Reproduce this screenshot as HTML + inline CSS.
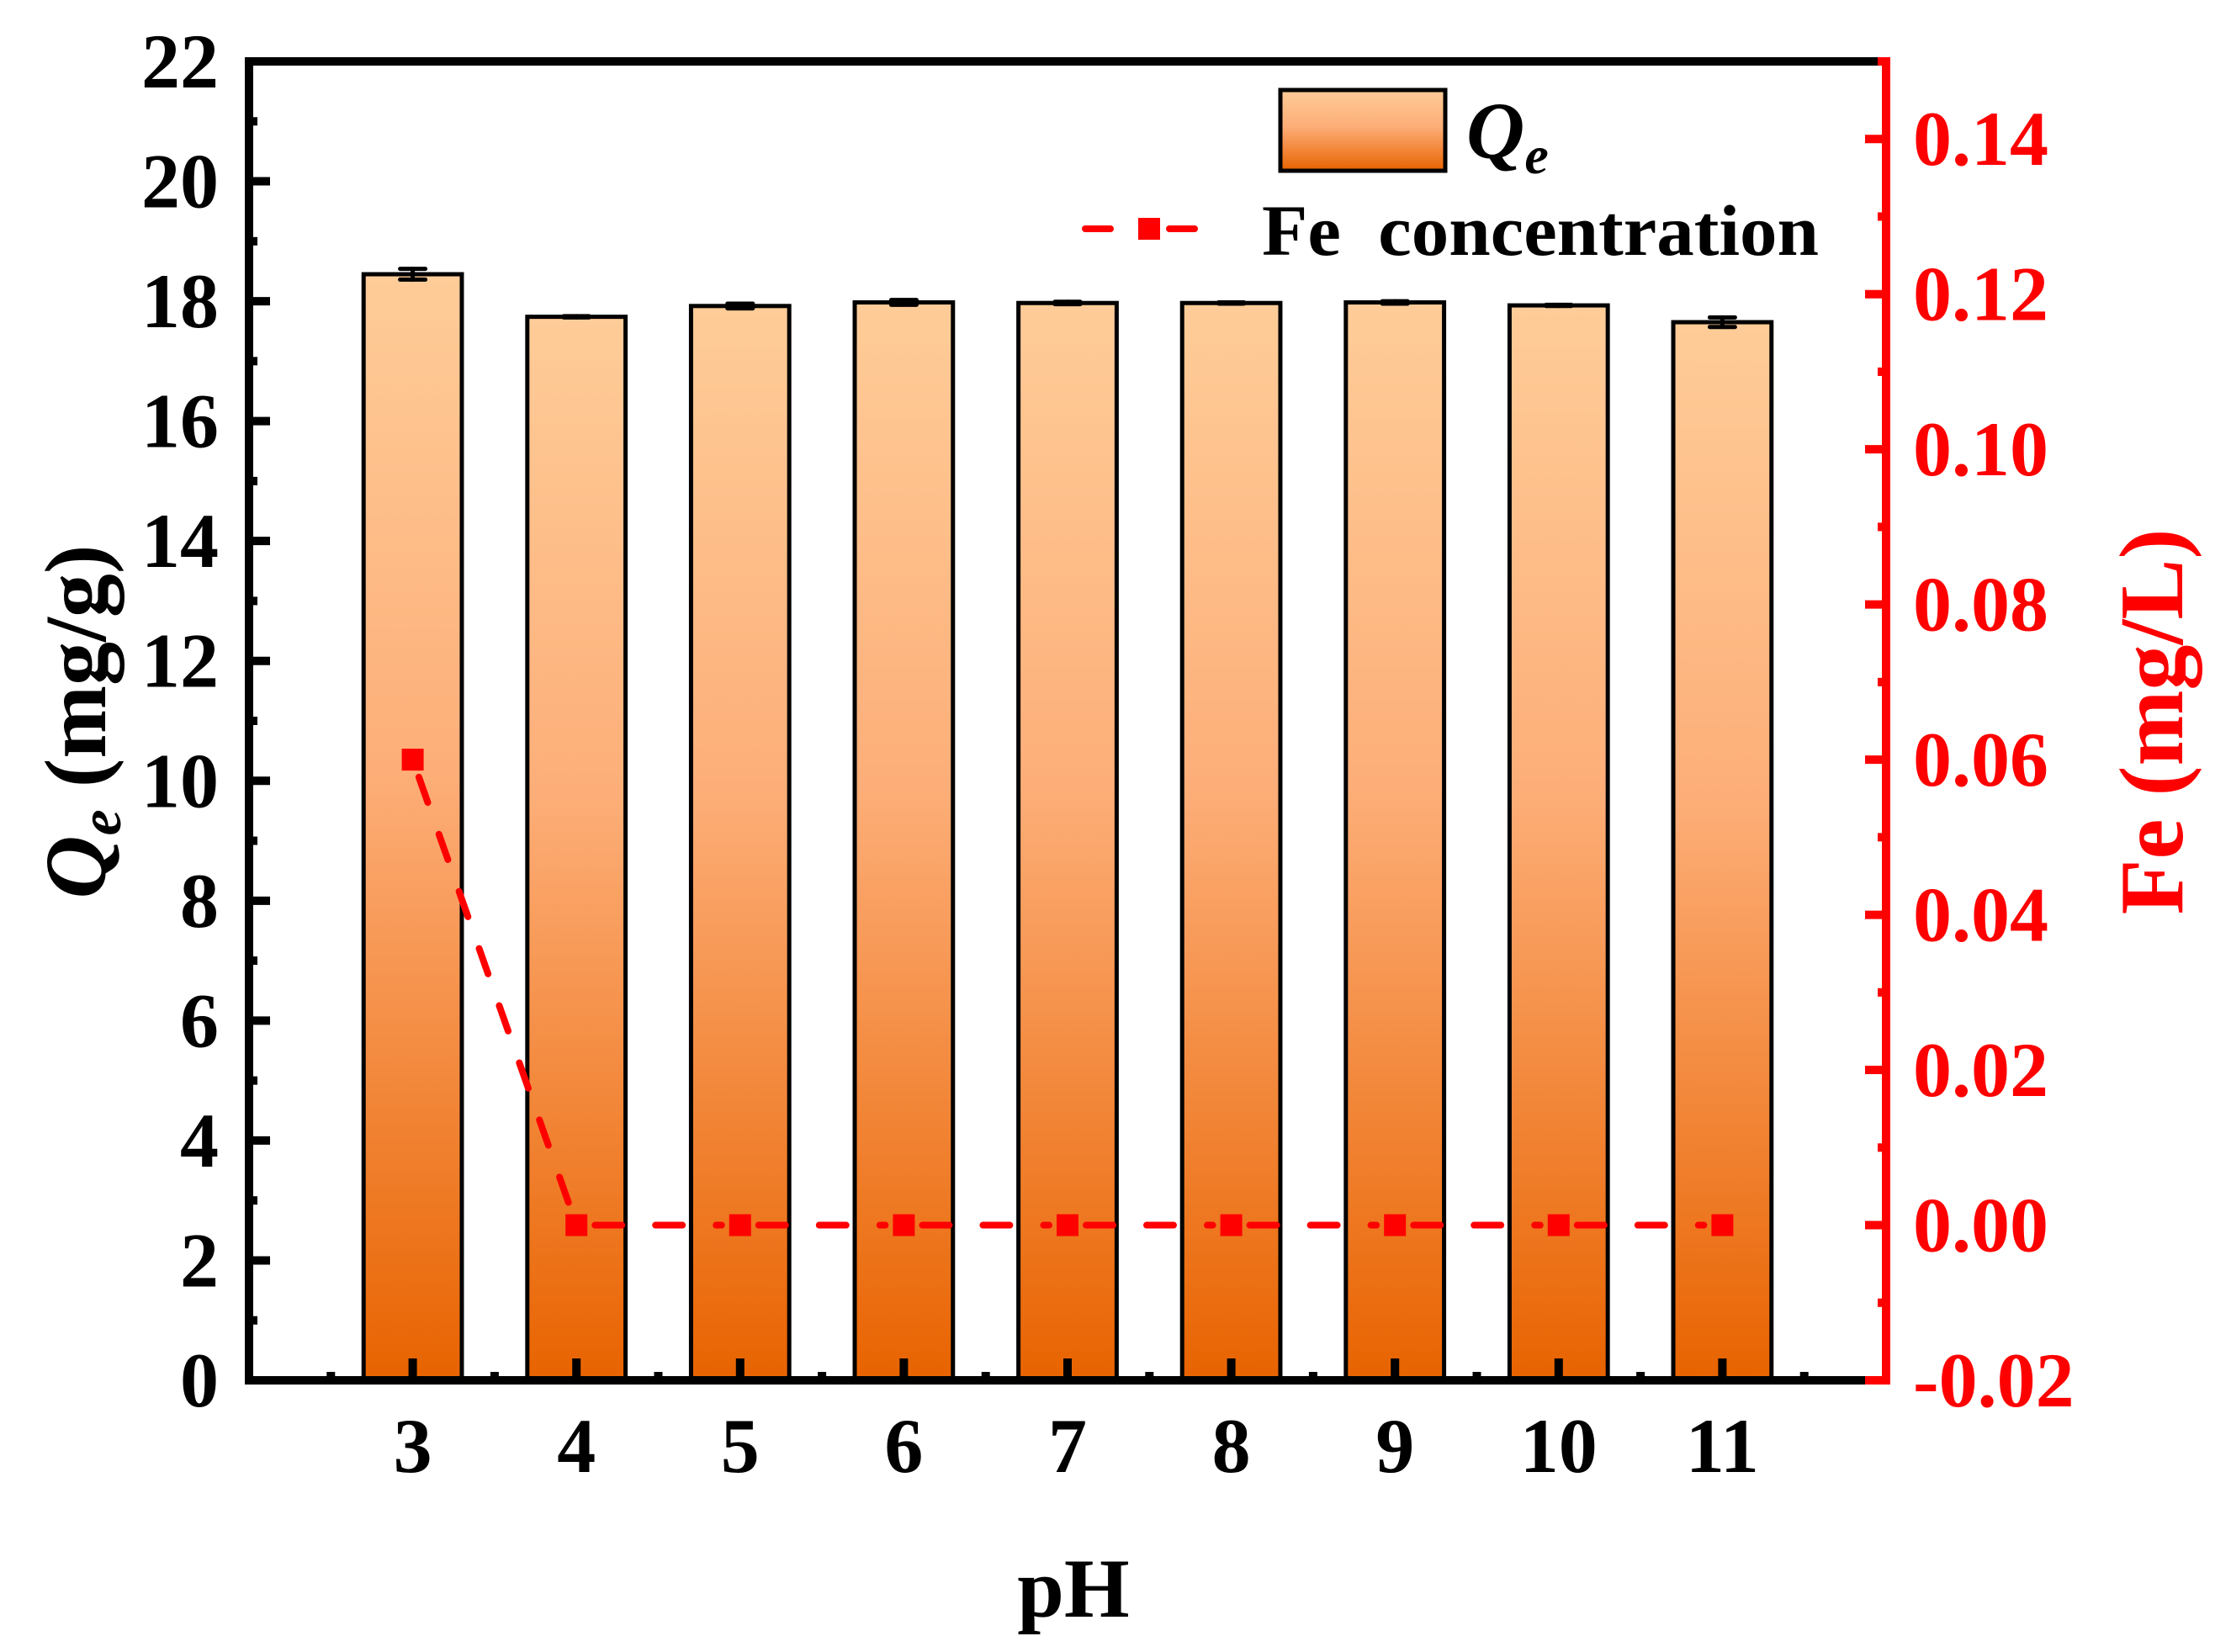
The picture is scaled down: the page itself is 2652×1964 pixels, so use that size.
<!DOCTYPE html>
<html><head><meta charset="utf-8">
<style>
html,body{margin:0;padding:0;background:#fff;}
svg{display:block;font-family:"Liberation Serif","Times New Roman",serif;font-weight:bold;}
</style></head>
<body>
<svg id="chart" width="2652" height="1964" viewBox="0 0 2652 1964" xmlns="http://www.w3.org/2000/svg">
<defs>
<linearGradient id="barGrad" x1="0" y1="0" x2="0" y2="1">
<stop offset="0" stop-color="#FECC98"/>
<stop offset="0.45" stop-color="#FDAE78"/>
<stop offset="1" stop-color="#E86300"/>
</linearGradient>
<linearGradient id="legGrad" x1="0" y1="0" x2="0" y2="1">
<stop offset="0" stop-color="#FECC98"/>
<stop offset="0.45" stop-color="#FDAE78"/>
<stop offset="1" stop-color="#E86300"/>
</linearGradient>
</defs>
<g id="bars"></g>
<g id="errs"></g>
<g id="feline"></g>
<g id="axes"></g>
<g>
<rect x="1522" y="107" width="196" height="96" fill="url(#legGrad)" stroke="#000" stroke-width="5"/>
<text x="1743" y="188" font-size="96" font-style="italic">Q<tspan font-size="64" dy="18">e</tspan></text>
<line x1="1290" y1="272" x2="1320" y2="272" stroke="#f00" stroke-width="8" stroke-linecap="round"/>
<line x1="1390" y1="272" x2="1420" y2="272" stroke="#f00" stroke-width="8" stroke-linecap="round"/>
<rect x="1353" y="259" width="26" height="26" fill="#f00"/>
<text x="1500" y="303" font-size="86" textLength="662" lengthAdjust="spacingAndGlyphs">Fe&#160;&#160;concentration</text>
</g>
<text x="1276" y="1922" font-size="100" text-anchor="middle">pH</text>
<text transform="translate(125,858) rotate(-90)" font-size="104" text-anchor="middle"><tspan font-style="italic">Q</tspan><tspan font-style="italic" font-size="70" dy="18">e</tspan><tspan dy="-18"> (mg/g)</tspan></text>
<text transform="translate(2594,858) rotate(-90)" font-size="108" fill="#f00" text-anchor="middle">Fe (mg/L)</text>
</svg>
<script>
const categories = [3,4,5,6,7,8,9,10,11];
const qeValues = [18.45,17.74,17.92,17.98,17.97,17.97,17.98,17.93,17.65];
const qeErrors = [0.09,0.01,0.04,0.04,0.02,0.01,0.02,0.01,0.08];
const feValues = [0.06,0,0,0,0,0,0,0,0];
const leftTicks = [0,2,4,6,8,10,12,14,16,18,20,22];
const rightTicks = ["-0.02","0.00","0.02","0.04","0.06","0.08","0.10","0.12","0.14"];

const X0=296,X1=2242,Y0=1641,Y1=73;
const xScale=v=>X0+(v-2)/(12-2)*(X1-X0);
const yL=v=>Y0-(v-0)/22*(Y0-Y1);
const yR=v=>Y0-(v+0.02)/0.17*(Y0-Y1);
const NS="http://www.w3.org/2000/svg";
function mk(tag,attrs,parent){const e=document.createElementNS(NS,tag);for(const k in attrs)e.setAttribute(k,attrs[k]);parent.appendChild(e);return e;}
const barsG=document.getElementById('bars'),errsG=document.getElementById('errs'),feG=document.getElementById('feline'),axesG=document.getElementById('axes');
const BW=0.6;
categories.forEach((c,i)=>{
  const xl=xScale(c-BW/2),xr=xScale(c+BW/2),yt=yL(qeValues[i]);
  const r=mk('rect',{x:xl,y:yt,width:xr-xl,height:Y0-yt,fill:'url(#barGrad)',stroke:'#000','stroke-width':5},barsG);
  
  
  const xc=xScale(c),ya=yL(qeValues[i]+qeErrors[i]),yb=yL(qeValues[i]-qeErrors[i]);
  const g=mk('g',{stroke:'#000','stroke-width':5,'stroke-linecap':'round'},errsG);
  
  
  mk('line',{x1:xc,y1:ya,x2:xc,y2:yb},g);
  mk('line',{x1:xc-15,y1:ya,x2:xc+15,y2:ya},g);
  mk('line',{x1:xc-15,y1:yb,x2:xc+15,y2:yb},g);
});
for(let i=0;i<categories.length-1;i++){
  const xa=xScale(categories[i]),ya=yR(feValues[i]),xb=xScale(categories[i+1]),yb=yR(feValues[i+1]);
  const len=Math.hypot(xb-xa,yb-ya),ux=(xb-xa)/len,uy=(yb-ya)/len,gp=22;
  const l=mk('line',{x1:xa+ux*gp,y1:ya+uy*gp,x2:xb-ux*gp,y2:yb-uy*gp,stroke:'#f00','stroke-width':8,'stroke-linecap':'round','stroke-dasharray':'32 40'},feG);
  
  
}
categories.forEach((c,i)=>{
  const m=mk('rect',{x:xScale(c)-13,y:yR(feValues[i])-13,width:26,height:26,fill:'#f00'},feG);
  
  
});
const topAxis=mk('line',{x1:X0-5,y1:Y1,x2:X1,y2:Y1,stroke:'#000','stroke-width':10},axesG);


const leftAxis=mk('line',{x1:X0,y1:Y1-5,x2:X0,y2:Y0+5,stroke:'#000','stroke-width':10},axesG);


const bottomAxis=mk('line',{x1:X0-5,y1:Y0,x2:X1-10,y2:Y0,stroke:'#000','stroke-width':10},axesG);


const rightAxis=mk('line',{x1:X1,y1:Y1-5,x2:X1,y2:Y0+5,stroke:'#f00','stroke-width':10},axesG);


mk('line',{x1:X1-14,y1:Y0,x2:X1+5,y2:Y0,stroke:'#f00','stroke-width':10},axesG);
leftTicks.forEach(v=>{
  const y=yL(v);
  mk('line',{x1:X0,y1:y,x2:X0+25,y2:y,stroke:'#000','stroke-width':10},axesG);
  if(v<22) mk('line',{x1:X0,y1:yL(v+1),x2:X0+10,y2:yL(v+1),stroke:'#000','stroke-width':10},axesG);
  const t=mk('text',{x:260,y:y+31,'font-size':92,'text-anchor':'end'},axesG);
  t.textContent=v;
  
  
});
for(let p=2.5;p<12;p+=0.5){
  const x=xScale(p),major=Number.isInteger(p);
  mk('line',{x1:x,y1:Y0,x2:x,y2:Y0-(major?26:10),stroke:'#000','stroke-width':10},axesG);
}
categories.forEach(c=>{
  const t=mk('text',{x:xScale(c),y:1750,'font-size':92,'text-anchor':'middle'},axesG);
  t.textContent=c;
  
  
});
rightTicks.forEach(s=>{
  const v=parseFloat(s),y=yR(v);
  mk('line',{x1:X1,y1:y,x2:X1-25,y2:y,stroke:'#f00','stroke-width':10},axesG);
  mk('line',{x1:X1,y1:yR(v+0.01),x2:X1-10,y2:yR(v+0.01),stroke:'#f00','stroke-width':10},axesG);
  const t=mk('text',{x:2274,y:y+31,'font-size':92,fill:'#f00'},axesG);
  t.textContent=s;
  
  
});
</script>
</body></html>
